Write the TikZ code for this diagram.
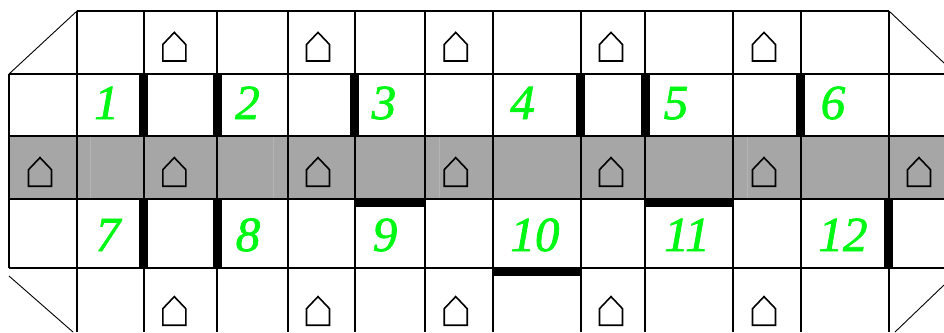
\documentclass[tikz,border=0pt]{standalone}
\usepackage{fontspec}
\setmainfont{Liberation Serif}[ItalicFeatures={FakeBold=1.6}]
\definecolor{bandgray}{HTML}{A6A6A6}
\definecolor{bandlight}{HTML}{B4B4B4}
\definecolor{labelgreen}{HTML}{00F814}
\tikzset{
  grid line/.style={draw=black,line width=1.9pt},
  diag line/.style={draw=black,line width=0.9pt},
  wall/.style={fill=black,draw=none},
  house/.style={draw=black,line width=1.6pt,line join=miter},
  lab/.style={text=labelgreen,font=\fontsize{49}{49}\selectfont\itshape,inner sep=0pt,anchor=base}
}
\newcommand{\houseat}[2]{\draw[house] (#1-11.5,#2+14.3) -- (#1-11.5,#2-2.2) -- (#1,#2-14.3) -- (#1+11.5,#2-2.2) -- (#1+11.5,#2+14.3) -- cycle;}
\begin{document}
\begin{tikzpicture}[x=1pt,y=-1pt]
\useasboundingbox (0,0) rectangle (944,332);
\begin{scope}
\clip (0,0) rectangle (944,332);
\fill[white] (0,0) rectangle (944,332);
\fill[bandgray] (9,136) rectangle (944,199);
\foreach \x in {90.7,273,439,747} \draw[bandlight,line width=0.6pt] (\x,136) -- (\x,199);
% horizontals
\draw[grid line] (77,11) -- (889,11);
\draw[grid line] (9,74) -- (944,74);
\draw[grid line] (9,136) -- (944,136);
\draw[grid line] (9,199) -- (944,199);
\draw[grid line] (9,268) -- (944,268);
% verticals
\draw[grid line] (9,74) -- (9,268);
\foreach \x in {77,144,217,288,355,425,493,581,645,733,801,889}
  \draw[grid line] (\x,11) -- (\x,332);
% diagonals
\draw[diag line] (9,74) -- (77,11);
\draw[diag line] (889,11) -- (944,63);
\draw[diag line] (9,276) -- (73,332);
\draw[diag line] (895,332) -- (944,285);
% thick walls
\foreach \a/\b in {139/148,213/222,350/359,576/585,641/650,796/805} \fill[wall] (\a,74) rectangle (\b,136);
\foreach \a/\b in {139/148,213/222,884/893} \fill[wall] (\a,199) rectangle (\b,268);
\fill[wall] (355,198.5) rectangle (425,207);
\fill[wall] (645,198.5) rectangle (733,207);
\fill[wall] (493,267.5) rectangle (581,275.7);
% houses
\foreach \x in {174.3,318,455.7,611,764} {\houseat{\x}{46.7}\houseat{\x}{310.9}}
\foreach \x in {40,174.3,318,455.7,611,764,919} {\houseat{\x}{171.9}}
\end{scope}
% labels
\node[lab] (n1) at (106.5,119) {1};
\node[lab] (n2) at (247.5,119) {2};
\node[lab] (n3) at (384,119) {3};
\node[lab] (n4) at (522.5,119) {4};
\node[lab] (n5) at (676,119) {5};
\node[lab] (n6) at (833,119) {6};
\node[lab] (n7) at (108,251) {7};
\node[lab] (n8) at (248,251) {8};
\node[lab] (n9) at (385,251) {9};
\node[lab] (n10) at (535,251) {10};
\node[lab] (n11) at (687,251) {11};
\node[lab] (n12) at (843,251) {12};
\end{tikzpicture}
\end{document}
